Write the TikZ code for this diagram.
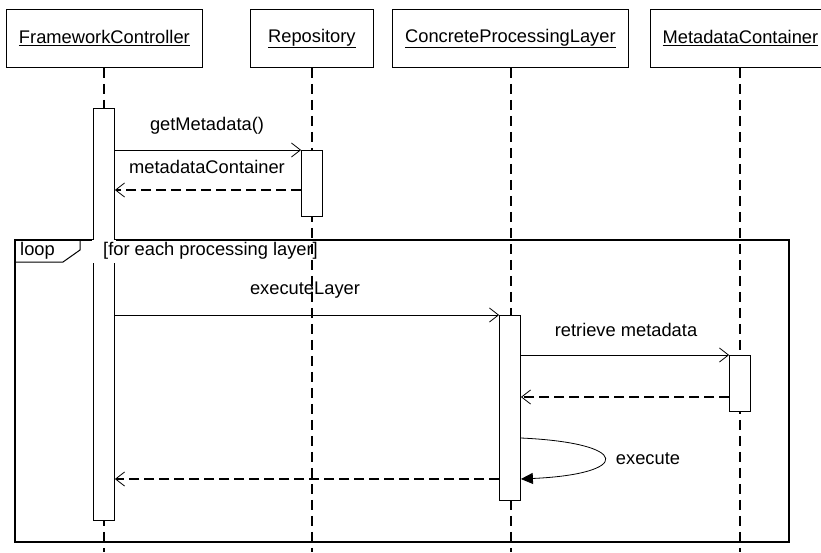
\documentclass[tikz,border=0pt]{standalone}
\usepackage{fontspec}
\setmainfont{Liberation Sans}
\usetikzlibrary{arrows.meta, calc, positioning}
\newcommand\msgfont{\fontsize{18.3}{22}\selectfont}

\tikzset{
  objbox/.style={draw, fill=white, line width=0.8pt, minimum height=58pt, inner sep=0pt, anchor=north west, font=\msgfont},
  life/.style={line width=2pt, dash pattern=on 10pt off 6pt},
  act/.style={draw, fill=white, line width=0.8pt, minimum width=21pt, inner sep=0pt, anchor=north},
  call/.style={line width=0.8pt, -{Straight Barb[length=9pt,width=14pt,line width=0.8pt]}},
  reply/.style={line width=2pt, dash pattern=on 10pt off 5pt, -{Straight Barb[length=9pt,width=14pt,line width=0.8pt]}},
  selfcall/.style={line width=0.8pt, -{Triangle[length=12pt,width=11pt]}},
  lbl/.style={font=\msgfont, inner sep=0pt},
}

\begin{document}
\begin{tikzpicture}[x=1pt, y=-1pt]
\useasboundingbox (0,0) rectangle (821,552);

% objects
\node[objbox, minimum width=196pt] (fc) at (6,9) {\underline{FrameworkController}};
\node[objbox, minimum width=123pt] (rep) at (250,9) {\underline{Repository}};
\node[objbox, minimum width=236pt] (cpl) at (392,9) {\underline{ConcreteProcessingLayer}};
\node[objbox, minimum width=180pt] (mdc) at (650,9) {\underline{MetadataContainer}};

% lifelines
\coordinate (fcend) at (104,552);
\coordinate (repend) at (312,552);
\coordinate (cplend) at (511,552);
\coordinate (mdcend) at (740,552);
\draw[life] (fcend |- fc.south) -- (fcend);
\draw[life] (repend |- rep.south) -- (repend);
\draw[life] (cplend |- cpl.south) -- (cplend);
\draw[life] (mdcend |- mdc.south) -- (mdcend);

% loop frame
\node[draw, line width=1.5pt, minimum width=774pt, minimum height=302pt, inner sep=0pt, anchor=north west] (loopfrm) at (14,239) {};

% activations
\node[act, minimum height=412pt] (fcact) at (104,108) {};
\node[act, minimum height=66pt] (repact) at (312,150) {};
\node[act, minimum height=185pt] (cplact) at (510,315) {};
\node[act, minimum height=56pt] (mdcact) at (740,355) {};

% loop header
\fill[white] ($(fcact.west |- loopfrm.north)+(-1,1)$) rectangle ($(fcact.east |- loopfrm.north)+(1,24)$);
\draw[line width=1pt] (loopfrm.north west) ++(66,0) -- ++(0,11) -- ++(-17,12) -- ++(-49,0);
\node[lbl, anchor=west] (looplbl) at (20,251) {loop};
\node[lbl, anchor=west] (guard) at (103,251) {[for each processing layer]};

% messages
\draw[call] (fcact.east |- repact.north) -- (repact.north west);
\node[lbl] (m1) at (207,126) {getMetadata()};
\draw[reply] (repact.west |- 0,190) -- (fcact.east |- 0,190);
\node[lbl] (m2) at (207,167) {metadataContainer};

\draw[call] (fcact.east |- cplact.north) -- (cplact.north west);
\node[lbl] (m3) at (305,290) {executeLayer};
\draw[call] (cplact.east |- mdcact.north) -- (mdcact.north west);
\node[lbl] (m4) at (626,330) {retrieve metadata};
\draw[reply] (mdcact.west |- 0,397) -- (cplact.east |- 0,397);

\draw[selfcall] (cplact.east |- 0,438) .. controls (632,443) and (632,474) .. (cplact.east |- 0,479);
\node[lbl] (m5) at (648,459) {execute};
\draw[reply] (cplact.west |- 0,479) -- (fcact.east |- 0,479);
\end{tikzpicture}
\end{document}
